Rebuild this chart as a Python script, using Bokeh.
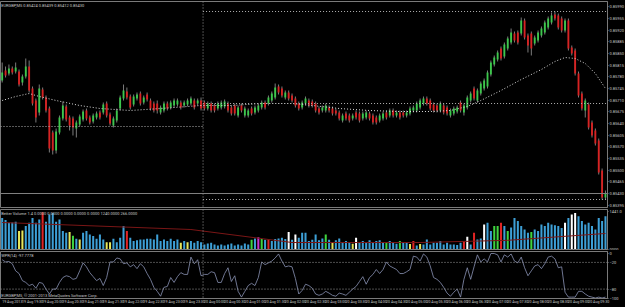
from bokeh.plotting import figure
from bokeh.layouts import column
from bokeh.models import (ColumnDataSource, Range1d, FixedTicker, Span, Label,
                          PrintfTickFormatter)
from bokeh.embed import file_html
from bokeh.resources import INLINE

# ---------------- data (EURGBP, M5) ----------------
opens = [
    0.85769, 0.85799, 0.85790, 0.85805, 0.85796, 0.85796, 0.85763, 0.85781, 0.85811, 0.85745,
    0.85709, 0.85673, 0.85742, 0.85718, 0.85685, 0.85613, 0.85559, 0.85613, 0.85655, 0.85691,
    0.85658, 0.85655, 0.85625, 0.85637, 0.85652, 0.85679, 0.85658, 0.85646, 0.85658, 0.85673,
    0.85673, 0.85700, 0.85667, 0.85634, 0.85649, 0.85685, 0.85715, 0.85736, 0.85721, 0.85697,
    0.85715, 0.85730, 0.85703, 0.85727, 0.85709, 0.85700, 0.85700, 0.85673, 0.85679, 0.85700,
    0.85688, 0.85694, 0.85697, 0.85703, 0.85694, 0.85697, 0.85700, 0.85709, 0.85700, 0.85709,
    0.85703, 0.85685, 0.85700, 0.85694, 0.85685, 0.85688, 0.85691, 0.85700, 0.85688, 0.85694,
    0.85664, 0.85694, 0.85664, 0.85664, 0.85685, 0.85673, 0.85679, 0.85688, 0.85703, 0.85700,
    0.85709, 0.85718, 0.85751, 0.85745, 0.85718, 0.85733, 0.85724, 0.85715, 0.85700, 0.85688,
    0.85700, 0.85709, 0.85706, 0.85700, 0.85685, 0.85679, 0.85679, 0.85688, 0.85685, 0.85679,
    0.85673, 0.85649, 0.85670, 0.85664, 0.85655, 0.85673, 0.85670, 0.85655, 0.85658, 0.85670,
    0.85664, 0.85658, 0.85649, 0.85655, 0.85673, 0.85664, 0.85679, 0.85664, 0.85673, 0.85673,
    0.85664, 0.85670, 0.85679, 0.85679, 0.85688, 0.85700, 0.85715, 0.85709, 0.85697, 0.85694,
    0.85679, 0.85694, 0.85688, 0.85664, 0.85670, 0.85676, 0.85703, 0.85673, 0.85688, 0.85709,
    0.85745, 0.85709, 0.85730, 0.85745, 0.85751, 0.85787, 0.85817, 0.85832, 0.85865, 0.85841,
    0.85865, 0.85883, 0.85910, 0.85913, 0.85910, 0.85949, 0.85904, 0.85910, 0.85880, 0.85889,
    0.85904, 0.85913, 0.85928, 0.85943, 0.85967, 0.85964, 0.85955, 0.85919, 0.85949, 0.85868,
    0.85859, 0.85790, 0.85730, 0.85679, 0.85697, 0.85643, 0.85619, 0.85589, 0.85499, 0.85418,
]
closes = [
    0.85793, 0.85784, 0.85805, 0.85793, 0.85808, 0.85757, 0.85781, 0.85811, 0.85739, 0.85700,
    0.85658, 0.85745, 0.85718, 0.85679, 0.85565, 0.85559, 0.85616, 0.85658, 0.85694, 0.85652,
    0.85634, 0.85628, 0.85643, 0.85661, 0.85676, 0.85655, 0.85643, 0.85664, 0.85670, 0.85658,
    0.85697, 0.85664, 0.85640, 0.85655, 0.85679, 0.85718, 0.85739, 0.85718, 0.85688, 0.85721,
    0.85727, 0.85700, 0.85718, 0.85712, 0.85685, 0.85679, 0.85679, 0.85688, 0.85700, 0.85685,
    0.85703, 0.85709, 0.85709, 0.85688, 0.85703, 0.85709, 0.85715, 0.85688, 0.85709, 0.85685,
    0.85685, 0.85700, 0.85679, 0.85679, 0.85700, 0.85703, 0.85706, 0.85679, 0.85670, 0.85670,
    0.85688, 0.85679, 0.85685, 0.85679, 0.85670, 0.85688, 0.85694, 0.85703, 0.85688, 0.85718,
    0.85730, 0.85748, 0.85733, 0.85724, 0.85733, 0.85715, 0.85709, 0.85694, 0.85685, 0.85703,
    0.85715, 0.85694, 0.85694, 0.85679, 0.85673, 0.85688, 0.85694, 0.85679, 0.85670, 0.85670,
    0.85655, 0.85664, 0.85655, 0.85649, 0.85664, 0.85658, 0.85649, 0.85670, 0.85673, 0.85655,
    0.85643, 0.85643, 0.85664, 0.85670, 0.85658, 0.85679, 0.85664, 0.85673, 0.85658, 0.85664,
    0.85673, 0.85685, 0.85688, 0.85700, 0.85709, 0.85715, 0.85700, 0.85685, 0.85679, 0.85679,
    0.85700, 0.85673, 0.85670, 0.85679, 0.85685, 0.85688, 0.85679, 0.85694, 0.85718, 0.85730,
    0.85715, 0.85739, 0.85760, 0.85769, 0.85793, 0.85823, 0.85838, 0.85853, 0.85835, 0.85877,
    0.85895, 0.85913, 0.85889, 0.85883, 0.85949, 0.85898, 0.85874, 0.85865, 0.85898, 0.85913,
    0.85925, 0.85943, 0.85955, 0.85964, 0.85955, 0.85928, 0.85919, 0.85949, 0.85865, 0.85850,
    0.85790, 0.85724, 0.85685, 0.85709, 0.85628, 0.85604, 0.85580, 0.85493, 0.85418, 0.85430,
]
highs = [
    0.85823, 0.85811, 0.85817, 0.85811, 0.85823, 0.85802, 0.85787, 0.85835, 0.85829, 0.85751,
    0.85715, 0.85757, 0.85748, 0.85724, 0.85691, 0.85619, 0.85625, 0.85664, 0.85706, 0.85697,
    0.85664, 0.85661, 0.85649, 0.85667, 0.85682, 0.85685, 0.85664, 0.85670, 0.85676, 0.85679,
    0.85703, 0.85706, 0.85673, 0.85661, 0.85685, 0.85724, 0.85757, 0.85748, 0.85727, 0.85727,
    0.85733, 0.85736, 0.85724, 0.85733, 0.85715, 0.85706, 0.85709, 0.85694, 0.85706, 0.85706,
    0.85709, 0.85715, 0.85715, 0.85709, 0.85709, 0.85715, 0.85721, 0.85715, 0.85715, 0.85718,
    0.85709, 0.85706, 0.85706, 0.85700, 0.85706, 0.85709, 0.85712, 0.85706, 0.85694, 0.85700,
    0.85694, 0.85700, 0.85691, 0.85685, 0.85691, 0.85694, 0.85700, 0.85709, 0.85709, 0.85724,
    0.85736, 0.85760, 0.85757, 0.85751, 0.85739, 0.85739, 0.85730, 0.85721, 0.85706, 0.85709,
    0.85721, 0.85715, 0.85712, 0.85706, 0.85691, 0.85694, 0.85700, 0.85694, 0.85691, 0.85685,
    0.85679, 0.85670, 0.85676, 0.85670, 0.85670, 0.85679, 0.85676, 0.85676, 0.85679, 0.85676,
    0.85670, 0.85664, 0.85670, 0.85676, 0.85679, 0.85685, 0.85685, 0.85679, 0.85679, 0.85679,
    0.85679, 0.85691, 0.85694, 0.85706, 0.85715, 0.85721, 0.85721, 0.85715, 0.85703, 0.85700,
    0.85706, 0.85700, 0.85694, 0.85685, 0.85691, 0.85694, 0.85709, 0.85700, 0.85724, 0.85736,
    0.85751, 0.85745, 0.85766, 0.85775, 0.85799, 0.85829, 0.85844, 0.85859, 0.85871, 0.85883,
    0.85901, 0.85925, 0.85916, 0.85919, 0.85958, 0.85955, 0.85910, 0.85916, 0.85904, 0.85919,
    0.85931, 0.85949, 0.85961, 0.85973, 0.85976, 0.85970, 0.85961, 0.85955, 0.85955, 0.85874,
    0.85865, 0.85796, 0.85736, 0.85715, 0.85703, 0.85649, 0.85625, 0.85595, 0.85505, 0.85439,
]
lows = [
    0.85763, 0.85778, 0.85784, 0.85787, 0.85790, 0.85751, 0.85754, 0.85775, 0.85733, 0.85694,
    0.85643, 0.85664, 0.85712, 0.85673, 0.85553, 0.85547, 0.85550, 0.85607, 0.85649, 0.85646,
    0.85619, 0.85604, 0.85598, 0.85631, 0.85646, 0.85649, 0.85637, 0.85640, 0.85652, 0.85652,
    0.85667, 0.85658, 0.85634, 0.85628, 0.85643, 0.85679, 0.85709, 0.85712, 0.85682, 0.85691,
    0.85709, 0.85694, 0.85697, 0.85706, 0.85679, 0.85673, 0.85670, 0.85667, 0.85673, 0.85679,
    0.85682, 0.85688, 0.85691, 0.85682, 0.85688, 0.85691, 0.85694, 0.85682, 0.85694, 0.85679,
    0.85679, 0.85679, 0.85673, 0.85673, 0.85679, 0.85682, 0.85685, 0.85673, 0.85664, 0.85664,
    0.85658, 0.85673, 0.85658, 0.85658, 0.85664, 0.85667, 0.85673, 0.85682, 0.85682, 0.85694,
    0.85703, 0.85712, 0.85727, 0.85718, 0.85712, 0.85709, 0.85703, 0.85688, 0.85679, 0.85682,
    0.85694, 0.85688, 0.85688, 0.85673, 0.85667, 0.85673, 0.85673, 0.85673, 0.85664, 0.85664,
    0.85649, 0.85643, 0.85649, 0.85643, 0.85649, 0.85652, 0.85643, 0.85649, 0.85652, 0.85649,
    0.85637, 0.85637, 0.85643, 0.85649, 0.85652, 0.85658, 0.85658, 0.85658, 0.85652, 0.85658,
    0.85658, 0.85664, 0.85673, 0.85673, 0.85682, 0.85694, 0.85694, 0.85679, 0.85673, 0.85673,
    0.85673, 0.85667, 0.85664, 0.85658, 0.85664, 0.85670, 0.85673, 0.85664, 0.85682, 0.85703,
    0.85709, 0.85703, 0.85724, 0.85739, 0.85745, 0.85781, 0.85811, 0.85826, 0.85829, 0.85835,
    0.85859, 0.85877, 0.85883, 0.85877, 0.85904, 0.85892, 0.85853, 0.85844, 0.85874, 0.85883,
    0.85898, 0.85907, 0.85922, 0.85937, 0.85949, 0.85922, 0.85913, 0.85913, 0.85859, 0.85844,
    0.85784, 0.85718, 0.85679, 0.85658, 0.85622, 0.85598, 0.85574, 0.85487, 0.85412, 0.85412,
]

# moving average read at a few bars
ma_bar = [0, 4, 8, 11, 16, 23, 29, 38, 47, 59, 68, 77, 86, 92, 100, 109, 118, 127, 133, 138,
          142, 148, 154, 160, 164, 167, 170, 173, 176, 179]
ma_val = [0.85709, 0.85721, 0.85730, 0.85721, 0.85709, 0.85694, 0.85685, 0.85679, 0.85685, 0.85694,
          0.85694, 0.85700, 0.85700, 0.85694, 0.85685, 0.85679, 0.85676, 0.85676, 0.85679, 0.85691,
          0.85709, 0.85739, 0.85772, 0.85802, 0.85826, 0.85838, 0.85835, 0.85820, 0.85790, 0.85745]

# daily high / low / reference levels
level_price = [0.85631, 0.85976, 0.85700, 0.85412]
level_from = [-0.5, 59.6, 59.6, 59.6]
level_to = [59.6, 179.2, 179.2, 179.2]
day_separator_bar = 59.6
bid_price = 0.85430

volumes = [
    1180, 1100, 1000, 1010, 1040, 680, 700, 870, 1000, 1180,
    1000, 1120, 1400, 1040, 1310, 1370, 1040, 1120, 680, 620,
    650, 500, 390, 360, 620, 680, 550, 490, 390, 550,
    360, 260, 260, 390, 260, 430, 870, 680, 430, 300,
    330, 360, 360, 390, 390, 360, 550, 300, 360, 300,
    390, 300, 360, 235, 300, 260, 300, 235, 300, 260,
    170, 210, 235, 170, 130, 170, 130, 170, 210, 130,
    170, 130, 210, 170, 350, 400, 450, 380, 350, 360,
    300, 380, 400, 430, 380, 650, 350, 550, 430, 620,
    620, 300, 350, 550, 330, 400, 550, 350, 240, 330,
    400, 260, 300, 240, 200, 430, 260, 300, 260, 330,
    240, 300, 330, 260, 260, 300, 260, 200, 300, 260,
    240, 190, 300, 130, 190, 170, 360, 170, 240, 240,
    300, 170, 240, 170, 170, 150, 240, 300, 470, 170,
    620, 360, 400, 930, 1000, 680, 870, 870, 1000, 870,
    680, 820, 1180, 1060, 870, 740, 620, 650, 740, 680,
    930, 870, 1000, 930, 900, 870, 800, 1000, 1180, 1310,
    1370, 1240, 1060, 930, 1000, 870, 740, 1180, 1060, 1240,
]
# Better Volume bar classes: b normal, y low, r climax, g churn, m climax churn, w climax low
vol_class = list(
    "bbbbbyybbb" "bbrbbbbbbb" "ygbybbbbbb" "byybbbbrbb" "bbbbbbbbbb"
    "bbbybybbbb" "bbbbbbbbbb" "bbbbgbmgbr" "bbbbbwbwbb" "bbbbbbgbyb"
    "bbbbywbbbb" "bbbbgbbbgb" "byrbybbbbb" "bbbbbbbrwb" "rbbwbbggrb"
    "gbbbbbbgbb" "bbbbbbbwbw" "wbbbbbbbbb"
)
vol_avg_bar = [0, 56, 86, 124, 150, 179]
vol_avg_val = [1007, 741, 247, 247, 330, 590]

wpr = [
    -14, -19, -18, -23, -39, -45, -61, -65, -72, -69,
    -78, -65, -67, -80, -91, -80, -80, -65, -54, -50,
    -52, -58, -56, -39, -21, -30, -43, -52, -61, -56,
    -72, -54, -19, -19, -10, -12, -23, -21, -30, -25,
    -34, -23, -30, -45, -58, -76, -85, -96, -76, -74,
    -54, -65, -52, -43, -47, -47, -8, -23, -14, -50,
    -47, -47, -41, -43, -65, -65, -45, -32, -63, -50,
    -85, -98, -85, -72, -67, -72, -54, -19, -25, -21,
    -17, -10, -1, -17, -30, -28, -30, -56, -91, -83,
    -69, -72, -78, -91, -94, -91, -85, -89, -94, -96,
    -89, -91, -94, -87, -80, -74, -63, -52, -69, -54,
    -47, -36, -45, -36, -19, -28, -32, -36, -45, -45,
    -41, -36, -6, -8, -17, -1, -8, -28, -54, -58,
    -65, -76, -89, -96, -87, -80, -98, -58, -32, -58,
    -30, -3, -19, -12, -19, 0, 0, -3, -19, -3,
    -8, -1, -17, -21, -8, -32, -50, -39, -28, -25,
    -34, -23, -8, -6, -12, -32, -30, -87, -98, -98,
    -98, -85, -85, -91, -96, -98, -100, -98, -100, -98,
]
wpr_levels = [-20, -80]

price_ticks = [0.85990, 0.85955, 0.85920, 0.85885, 0.85850, 0.85815, 0.85780, 0.85745, 0.85710,
               0.85675, 0.85640, 0.85605, 0.85570, 0.85535, 0.85500, 0.85465, 0.85430, 0.85395]
time_bars = list(range(0, 180, 6))
time_labels = [
    "19 Aug 2013", "19 Aug 19:30", "19 Aug 20:00", "19 Aug 20:30", "19 Aug 21:00",
    "19 Aug 21:30", "19 Aug 22:00", "19 Aug 22:30", "19 Aug 23:00", "19 Aug 23:30",
    "20 Aug 00:00", "20 Aug 00:30", "20 Aug 01:00", "20 Aug 01:30", "20 Aug 02:00",
    "20 Aug 02:30", "20 Aug 03:00", "20 Aug 03:30", "20 Aug 04:00", "20 Aug 04:30",
    "20 Aug 05:00", "20 Aug 05:30", "20 Aug 06:00", "20 Aug 06:30", "20 Aug 07:00",
    "20 Aug 07:30", "20 Aug 08:00", "20 Aug 08:30", "20 Aug 09:00", "20 Aug 09:30",
]

title_text = "EURGBP,M5  0.85424 0.85439 0.85412 0.85430"
vol_text = "Better Volume 1.4  0.0000 0.0000 0.0000 0.0000 0.0000 1240.0000 266.0000"
wpr_text = "WPR(14) -97.7778"
copy_text = "EURGBP,M5, \u00a9 2001-2013 MetaQuotes Software Corp."

# ---------------- styling ----------------
FONT = "Roboto"
GRID = "#7a7a7a"
TXT = "#c8c8c8"
UP = "#3cc84c"
DN = "#d82222"
VCOL = {"b": "#3d9fd6", "y": "#e6e65a", "r": "#e02424", "g": "#3fd43f",
        "m": "#cc33cc", "w": "#ffffff"}

N = len(closes)
bars = list(range(N))
xr = Range1d(-0.5, 179.6)


def base_fig(frame_h, yr, below=False, bottom=1):
    f = figure(frame_width=607, frame_height=frame_h, x_range=xr, y_range=yr,
               output_backend="svg", toolbar_location=None,
               x_axis_location=("below" if below else None), y_axis_location="right",
               min_border_left=0, min_border_right=18, min_border_top=1,
               min_border_bottom=bottom, background_fill_color="black",
               border_fill_color="black", outline_line_color=GRID)
    f.grid.visible = False
    for ax in f.yaxis:
        ax.axis_line_color = GRID
        ax.major_tick_line_color = GRID
        ax.major_tick_out = 1
        ax.major_tick_in = 0
        ax.minor_tick_line_color = None
        ax.major_label_text_color = TXT
        ax.major_label_text_font = FONT
        ax.major_label_text_font_size = "4px"
        ax.major_label_standoff = 1
    f.add_layout(Span(location=day_separator_bar, dimension="height",
                      line_color="#9a9a9a", line_dash="1 2", line_width=1))
    return f


# ---------------- price panel ----------------
p = base_fig(206, Range1d(0.85388, 0.86006))
body_top = [max(o, c) for o, c in zip(opens, closes)]
body_bot = [min(o, c) for o, c in zip(opens, closes)]
colors = [UP if c >= o else DN for o, c in zip(opens, closes)]
src = ColumnDataSource(dict(x=bars, h=highs, l=lows, t=body_top, b=body_bot, c=colors))
p.segment(x0="x", y0="l", x1="x", y1="h", source=src, line_color="#9a9a9a", line_width=0.8)
p.vbar(x="x", top="t", bottom="b", width=0.55, source=src, fill_color="c", line_color=None)
p.line(ma_bar, ma_val, line_color="#d8d8d8", line_dash="1 2", line_width=1)
p.segment(x0=level_from, y0=level_price, x1=level_to, y1=level_price,
          line_color="#b0b0b0", line_dash="1 2", line_width=1)
p.add_layout(Span(location=bid_price, dimension="width", line_color="#808080", line_width=1))
p.yaxis.ticker = FixedTicker(ticks=price_ticks)
p.yaxis.formatter = PrintfTickFormatter(format="%.5f")
p.add_layout(Label(x=-0.3, y=0.86006, y_offset=-1, text=title_text, text_baseline="top",
                   text_color=TXT, text_font=FONT, text_font_size="4px"))
p.add_layout(Label(x=179.6, y=bid_price, x_offset=2, text="%.5f" % bid_price,
                   text_baseline="middle", text_color="black", text_font=FONT,
                   text_font_size="4px", background_fill_color="#e0e0e0"))

# ---------------- volume panel ----------------
v = base_fig(40, Range1d(-19, 1501))
vsrc = ColumnDataSource(dict(x=bars, v=volumes, c=[VCOL[k] for k in vol_class]))
v.vbar(x="x", top="v", bottom=0, width=0.6, source=vsrc, fill_color="c", line_color=None)
v.line(vol_avg_bar, vol_avg_val, line_color="#7a1616", line_width=1)
v.yaxis.ticker = FixedTicker(ticks=[0, 1441])
v.yaxis.major_label_overrides = {0: "0000", 1441: "1441.0"}
v.add_layout(Label(x=-0.3, y=1501, y_offset=-1, text=vol_text, text_baseline="top",
                   text_color=TXT, text_font=FONT, text_font_size="4px"))

# ---------------- WPR panel ----------------
w = base_fig(47, Range1d(-101.1, 4.5), below=True, bottom=0)
w.line(bars, wpr, line_color="#8a93b5", line_width=0.8)
for lv in wpr_levels:
    w.add_layout(Span(location=lv, dimension="width", line_color="#9a9a9a",
                      line_dash="1 2", line_width=1))
w.yaxis.ticker = FixedTicker(ticks=[0, -20, -80, -100])
w.add_layout(Label(x=-0.3, y=4.5, y_offset=-1, text=wpr_text, text_baseline="top",
                   text_color=TXT, text_font=FONT, text_font_size="4px"))
w.add_layout(Label(x=-0.3, y=-101.1, y_offset=1, text=copy_text, text_baseline="bottom",
                   text_color=TXT, text_font=FONT, text_font_size="4px"))
xa = w.xaxis[0]
xa.ticker = FixedTicker(ticks=[b + 3 for b in time_bars])
xa.major_label_overrides = {b + 3: t for b, t in zip(time_bars, time_labels)}
xa.axis_line_color = GRID
xa.major_tick_line_color = None
xa.major_tick_out = 0
xa.major_tick_in = 0
xa.minor_tick_line_color = None
xa.minor_tick_out = 0
xa.major_label_text_color = TXT
xa.major_label_text_font = FONT
xa.major_label_text_font_size = "3.6px"
xa.major_label_standoff = 1

layout = column(p, v, w, spacing=0, styles={"background-color": "black"})
html = file_html(layout, INLINE, title="EURGBP M5")
html = html.replace("<body>", '<body style="margin:0;background:black;">')
open("out.html", "w").write(html)
